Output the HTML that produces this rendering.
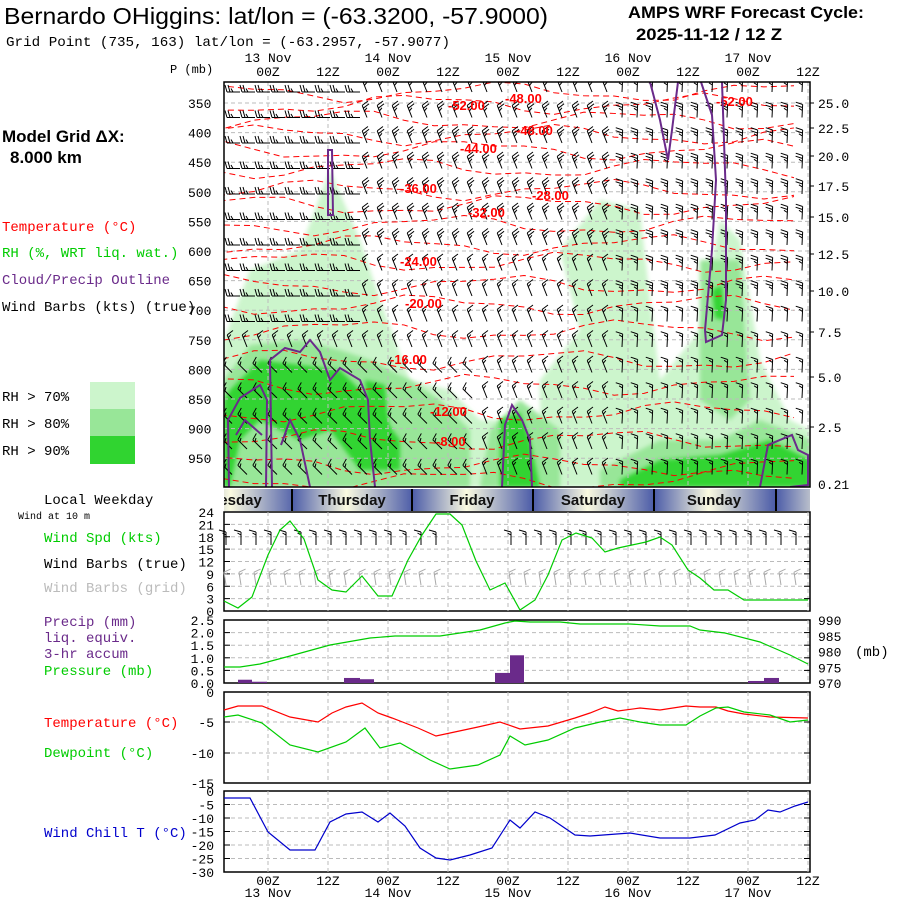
<!DOCTYPE html>
<html><head><meta charset="utf-8"><style>
html,body{margin:0;padding:0;background:#fff;}
svg text{font-family:"Liberation Mono","DejaVu Sans Mono",monospace;}
.s{font-family:"Liberation Sans",sans-serif;}
</style></head><body>
<svg id="m" width="900" height="900" viewBox="0 0 900 900" xmlns="http://www.w3.org/2000/svg">
<defs>
<linearGradient id="wd" x1="0" x2="1" y1="0" y2="0">
<stop offset="0" stop-color="#4c5ca8"/><stop offset="0.45" stop-color="#fafae0"/><stop offset="1" stop-color="#4c5ca8"/>
</linearGradient>
<clipPath id="cp"><rect x="224" y="82" width="586" height="405"/></clipPath>
<filter id="bl"><feGaussianBlur stdDeviation="2"/></filter>
</defs>
<text x="4" y="24" class="s" font-size="23" textLength="544" lengthAdjust="spacingAndGlyphs">Bernardo OHiggins:  lat/lon = (-63.3200, -57.9000)</text>
<text x="6" y="46" font-size="14" textLength="444" lengthAdjust="spacingAndGlyphs">Grid Point (735, 163) lat/lon = (-63.2957, -57.9077)</text>
<text x="628" y="18" class="s" font-size="17" font-weight="bold" textLength="236" lengthAdjust="spacingAndGlyphs">AMPS WRF Forecast Cycle:</text>
<text x="636" y="40" class="s" font-size="17" font-weight="bold" textLength="146" lengthAdjust="spacingAndGlyphs">2025-11-12 / 12  Z</text>
<text x="2" y="142" class="s" font-size="17" font-weight="bold">Model Grid ΔX:</text>
<text x="10" y="163" class="s" font-size="17" font-weight="bold">8.000 km</text>
<text x="2" y="231" font-size="14" fill="#f00">Temperature (°C)</text>
<text x="2" y="257" font-size="14" fill="#0c0">RH (%, WRT liq. wat.)</text>
<text x="2" y="284" font-size="14" fill="#6a2a8a">Cloud/Precip Outline</text>
<text x="2" y="311" font-size="14">Wind Barbs (kts) (true)</text>
<rect x="90" y="382" width="45" height="27" fill="#ccf5cc"/>
<rect x="90" y="409" width="45" height="27" fill="#98e698"/>
<rect x="90" y="436" width="45" height="28" fill="#30d430"/>
<text x="2" y="401" font-size="14">RH &gt; 70%</text>
<text x="2" y="428" font-size="14">RH &gt; 80%</text>
<text x="2" y="455" font-size="14">RH &gt; 90%</text>
<text x="170" y="73" font-size="12">P (mb)</text>
<text x="856" y="280" font-size="12" transform="rotate(90 880 300)">Kft MSL</text>
<g id="main" clip-path="url(#cp)"></g>
<rect x="224" y="82" width="586" height="405" fill="none" stroke="#000" stroke-width="1.5"/>
<g id="dyn"></g>
<text x="44" y="504" font-size="14">Local Weekday</text>
<text x="18" y="519" font-size="10">Wind at 10 m</text>
<text x="44" y="542" font-size="14" fill="#0c0">Wind Spd (kts)</text>
<text x="44" y="568" font-size="14">Wind Barbs (true)</text>
<text x="44" y="592" font-size="14" fill="#bbb">Wind Barbs (grid)</text>
<text x="44" y="626" font-size="14" fill="#6a2a8a">Precip (mm)</text>
<text x="44" y="642" font-size="14" fill="#6a2a8a">liq. equiv.</text>
<text x="44" y="658" font-size="14" fill="#6a2a8a">3-hr accum</text>
<text x="44" y="675" font-size="14" fill="#0c0">Pressure (mb)</text>
<text x="44" y="727" font-size="14" fill="#f00">Temperature (°C)</text>
<text x="44" y="757" font-size="14" fill="#0c0">Dewpoint (°C)</text>
<text x="44" y="837" font-size="14" fill="#00c">Wind Chill T (°C)</text>
<text x="855" y="656" font-size="14">(mb)</text>
</svg>
<script>
var NS="http://www.w3.org/2000/svg";
function el(p,t,a,txt){var e=document.createElementNS(NS,t);for(var k in a)e.setAttribute(k,a[k]);if(txt!==undefined)e.textContent=txt;p.appendChild(e);return e;}
var M=document.getElementById('main'),D=document.getElementById('dyn');
function poly(pts,c,blur){el(M,'polygon',{points:pts,fill:c,filter:blur?'url(#bl)':''});}
poly("224,340 250,270 300,250 330,170 360,240 380,300 410,380 450,390 480,420 520,420 560,430 560,487 224,487",'#ccf5cc',1);
poly("560,250 600,200 640,210 650,300 660,380 700,330 720,220 740,240 760,360 790,420 810,430 810,487 540,487 540,380 580,330",'#ccf5cc',1);
poly("224,380 250,345 300,340 340,350 370,360 410,380 440,400 470,430 470,487 224,487",'#98e698',1);
poly("490,430 520,400 560,430 560,487 480,487",'#98e698',1);
poly("590,260 620,230 640,300 620,400 580,380",'#ccf5cc',1);
poly("700,260 740,260 750,400 730,420 700,400",'#98e698',1);
poly("600,470 660,440 720,440 760,420 810,440 810,487 600,487",'#98e698',1);
poly("230,390 260,360 300,365 340,370 370,400 400,440 400,470 360,470 330,430 300,440 260,420 240,440 230,487 224,487 224,400",'#30d430',1);
poly("500,420 520,412 530,440 540,487 500,487",'#30d430',1);
poly("620,480 660,460 720,455 770,440 810,460 810,487 620,487",'#30d430',1);
poly("712,290 722,285 725,320 715,318",'#30d430',1);
poly("365,380 385,385 390,440 370,440",'#30d430',1);
for(var x=268;x<810;x+=60)el(M,'line',{x1:x,y1:82,x2:x,y2:487,stroke:'#bbb','stroke-dasharray':'4,3'});
var pl=[350,400,450,500,550,600,650,700,750,800,850,900,950];
pl.forEach(function(p,i){var y=103+i*29.6;el(M,'line',{x1:224,y1:y,x2:810,y2:y,stroke:'#bbb','stroke-dasharray':'4,3'});el(D,'text',{x:188,y:y+5,'font-size':13},p);});
var cy=[92,104,120,135,150,168,190,205,225,245,262,285,305,330,360,385,412,440,465,480];
cy.forEach(function(y,i){var d='M224 '+y;for(var x=224;x<=810;x+=30){d+=' L'+x+' '+(y+8*Math.sin(x/45+i*1.7)+3*Math.sin(x/17+i));}el(M,'path',{d:d,fill:'none',stroke:'#f00','stroke-width':1,'stroke-dasharray':'6,4'});});
function barb(x,y,ang,n){var dx=Math.cos(ang),dy=Math.sin(ang),L=13;var ex=x+dx*L,ey=y+dy*L;var d='M'+x+' '+y+' L'+ex+' '+ey;var px=-dy,py=dx;if(py>0){px=-px;py=-py;}for(var k=0;k<n;k++){var bx=ex-dx*k*3,by=ey-dy*k*3;var f=(k==n-1&&n>1)?3.5:7;d+=' M'+bx+' '+by+' L'+(bx+px*f+dx*2)+' '+(by+py*f+dy*2);}return d;}
var bd='';
for(var r=0;r<16;r++){var y=92+r*25.5;for(var c=0;c<39;c++){var x=232+c*15;var ang,n;
 if(x<360&&y<340){ang=Math.PI;n=3;} else if(x<620){ang=-Math.PI*0.62;n=y<250?3:2;} else {ang=-Math.PI*0.5+0.05;n=y<300?3:2;}
 if(y>350&&x<480){ang=-Math.PI*0.75;n=2;}
 bd+=barb(x+(ang==Math.PI?8:0),y,ang,n);}}
el(M,'path',{d:bd,fill:'none',stroke:'#000','stroke-width':1});
[[448,110,'-52.00'],[505,103,'-48.00'],[516,135,'-48.00'],[460,153,'-44.00'],[400,193,'-36.00'],[532,200,'-28.00'],[468,217,'-32.00'],[400,266,'-24.00'],[405,308,'-20.00'],[390,364,'-16.00'],[430,416,'-12.00'],[436,446,'-8.00'],[716,106,'-52.00']].forEach(function(a){el(M,'text',{x:a[0],y:a[1],'font-size':13,'font-weight':'bold',fill:'#f00',class:'s'},a[2]);});
var pu='#6a2a8a';
[["M328,150 L332,150 L333,215 L328,215 Z"],["M650,82 L660,120 L668,160 L672,130 L678,82"],["M701,82 L712,115 L716,180 L712,250 L705,330 L706,342 L722,335 L726,300 L726,200 L722,82"],
 ["M229,487 L228,420 L240,398 L260,385 L267,400 L266,487"],["M272,487 L270,360 L285,348 L300,352 L310,340 L320,352 L330,380 L340,368 L360,380 L368,400 L370,440 L375,487"],
 ["M281,445 L290,420 L300,440 L310,487"],["M236,435 L245,420 L262,435"],["M502,487 L505,425 L512,405 L522,420 L530,440 L532,487"],["M760,487 L768,445 L792,435 L798,450 L808,455 L808,485 L790,487"]].forEach(function(a){el(M,'path',{d:a[0],fill:'none',stroke:pu,'stroke-width':2});});
var tl=['00Z','12Z','00Z','12Z','00Z','12Z','00Z','12Z','00Z','12Z'],dl=['13 Nov','14 Nov','15 Nov','16 Nov','17 Nov'];
for(var i=0;i<10;i++){var x=268+i*60;el(D,'text',{x:x,y:76,'font-size':13,'text-anchor':'middle'},tl[i]);el(D,'text',{x:x,y:885,'font-size':13,'text-anchor':'middle'},tl[i]);}
for(var i=0;i<5;i++){var x=268+i*120;el(D,'text',{x:x,y:62,'font-size':13,'text-anchor':'middle'},dl[i]);el(D,'text',{x:x,y:897,'font-size':13,'text-anchor':'middle'},dl[i]);}
[[25.0,108],[22.5,133],[20.0,161],[17.5,191],[15.0,222],[12.5,259],[10.0,296],[7.5,337],[5.0,382],[2.5,432]].forEach(function(a){el(D,'text',{x:818,y:a[1],'font-size':13},a[0].toFixed(1));el(D,'line',{x1:810,y1:a[1]-5,x2:814,y2:a[1]-5,stroke:'#000'});});
el(D,'text',{x:818,y:489,'font-size':13},'0.21');
var wx=[[176,'nesday'],[292,'Thursday'],[412,'Friday'],[533,'Saturday'],[654,'Sunday'],[776,'M']];
var wg=el(D,'g',{});
el(wg,'clipPath',{id:'wc'});el(document.getElementById('wc'),'rect',{x:224,y:489,width:586,height:22});
var wgg=el(D,'g',{'clip-path':'url(#wc)'});
wx.forEach(function(a){el(wgg,'rect',{x:a[0],y:489,width:121,height:22,fill:'url(#wd)'});el(wgg,'text',{x:a[0]+60,y:505,'font-size':15,'text-anchor':'middle',class:'s','font-weight':'bold',fill:'#111'},a[1]);el(wgg,'line',{x1:a[0],y1:489,x2:a[0],y2:511,stroke:'#000','stroke-width':2});});
function panel(y1,y2){el(D,'rect',{x:224,y:y1,width:586,height:y2-y1,fill:'none',stroke:'#000','stroke-width':1.5});for(var x=268;x<810;x+=60)el(D,'line',{x1:x,y1:y1,x2:x,y2:y2,stroke:'#bbb','stroke-dasharray':'4,3'});}
function hline(y){el(D,'line',{x1:224,y1:y,x2:810,y2:y,stroke:'#bbb','stroke-dasharray':'4,3'});el(D,'line',{x1:224,y1:y,x2:230,y2:y,stroke:'#000'});el(D,'line',{x1:804,y1:y,x2:810,y2:y,stroke:'#000'});}
function pl2(pts,c){el(D,'polyline',{points:pts,fill:'none',stroke:c,'stroke-width':1.2});}
panel(512,611);
for(var k=0;k<=8;k++){var y=611-k*12.375;if(k>0&&k<8)hline(y);el(D,'text',{x:214,y:y+5,'font-size':13,'text-anchor':'end'},k*3);}
var wb='',gb='';
for(var c=0;c<39;c++){var x=226+c*15;if(x>440&&x<500)continue;wb+=barb(x,545,-Math.PI*0.5,2);gb+=barb(x,585,-Math.PI*0.55,2);}
el(D,'path',{d:wb,fill:'none',stroke:'#000','stroke-width':1});
el(D,'path',{d:gb,fill:'none',stroke:'#aaa','stroke-width':1});
pl2("224,601 238,608 252,597 268,555 280,530 290,521 304,539 318,580 332,590 346,592 362,576 378,596 392,596 408,560 422,535 436,514 450,514 462,525 476,561 490,590 505,583 520,610 535,600 548,575 562,540 576,533 592,538 605,552 618,548 632,545 646,542 660,537 672,545 688,570 700,578 714,590 728,590 744,600 808,600",'#0c0');
panel(620,683);
['0.0','0.5','1.0','1.5','2.0','2.5'].forEach(function(t,k){var y=683-k*12.6;if(k>0&&k<5)hline(y);el(D,'text',{x:214,y:y+5,'font-size':13,'text-anchor':'end'},t);});
[970,975,980,985,990].forEach(function(t,k){el(D,'text',{x:818,y:683-k*15.75+5,'font-size':13},t);});
[[238,252,0.13],[252,267,0.05],[344,360,0.2],[360,374,0.15],[495,510,0.4],[510,524,1.1],[748,764,0.08],[764,779,0.2]].forEach(function(b){var h=b[2]*25.2;el(D,'rect',{x:b[0],y:683-h,width:b[1]-b[0],height:h,fill:'#6a2a8a'});});
pl2("224,667 240,667 260,664 290,656 330,645 370,638 395,636 440,636 480,630 505,623 515,621 530,622 560,622 580,624 630,624 660,626 690,626 700,630 725,633 760,642 790,655 808,664",'#0c0');
panel(692,783);
[['0',692],['-5',722],['-10',753],['-15',783]].forEach(function(a){if(a[0]!='0'&&a[0]!='-15')hline(a[1]);el(D,'text',{x:214,y:a[1]+5,'font-size':13,'text-anchor':'end'},a[0]);});
pl2("224,710 238,706 262,706 290,717 318,722 332,713 346,707 362,703 378,713 392,718 418,728 436,736 450,733 478,727 500,722 520,729 548,726 575,718 590,713 605,707 618,711 640,708 660,710 686,706 700,707 716,707 728,711 744,714 770,717 808,718",'#f00');
pl2("224,717 238,715 262,723 290,745 318,752 346,742 365,728 380,748 400,743 430,760 450,769 478,765 500,755 510,736 525,745 548,740 575,728 600,722 620,718 640,722 660,725 686,725 700,716 716,708 728,707 744,712 770,715 790,722 808,720",'#0c0');
panel(791,872);
['0','-5','-10','-15','-20','-25','-30'].forEach(function(t,k){var y=791+k*13.5;if(k>0&&k<6)hline(y);el(D,'text',{x:214,y:y+5,'font-size':13,'text-anchor':'end'},t);});
pl2("224,798 250,798 268,832 290,850 315,850 330,822 346,814 362,812 378,822 390,813 405,826 420,848 436,858 450,860 470,855 492,848 510,820 520,828 535,812 550,818 575,835 590,836 630,833 660,838 690,838 715,835 740,823 755,820 768,810 780,812 795,806 808,802",'#00c');
</script>
</body></html>
